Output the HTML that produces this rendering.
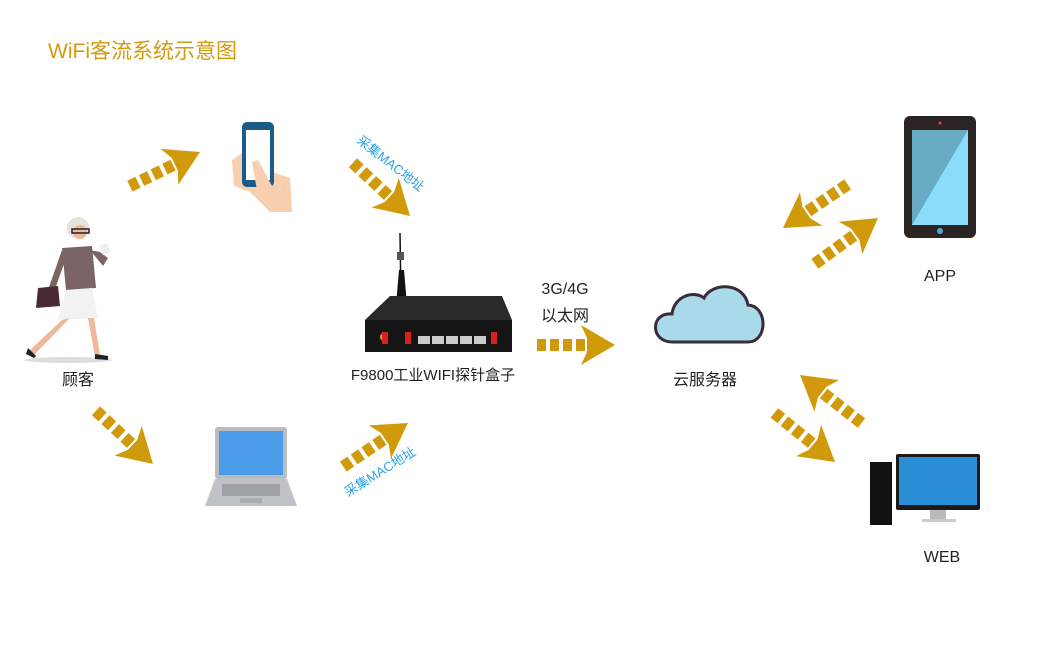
<!DOCTYPE html>
<html><head><meta charset="utf-8"><style>
html,body{margin:0;padding:0;background:#fff;}
body{width:1050px;height:646px;overflow:hidden;position:relative;font-family:"Liberation Sans","Noto Sans CJK SC",sans-serif;}
.t{position:absolute;font-size:16px;color:#222;white-space:nowrap;transform:translateX(-50%);}
</style></head><body>
<div style="position:absolute;left:48px;top:35px;font-size:21px;color:#d19a0a;font-family:'Liberation Sans','Noto Sans CJK SC',sans-serif;">WiFi客流系统示意图</div>
<svg width="1050" height="646" style="position:absolute;left:0;top:0">
<defs>
<g id="ar">
<polygon points="0,0 -34,-20 -28,-7 -28,7 -34,20" fill="#d19a0a"/>
<rect x="-39" y="-6" width="9" height="12" fill="#d19a0a"/>
<rect x="-52" y="-6" width="9" height="12" fill="#d19a0a"/>
<rect x="-65" y="-6" width="9" height="12" fill="#d19a0a"/>
<rect x="-78" y="-6" width="9" height="12" fill="#d19a0a"/>
</g>
</defs>
<use href="#ar" transform="translate(200,152) rotate(-26)"/>
<use href="#ar" transform="translate(410,216) rotate(43)"/>
<use href="#ar" transform="translate(153,464) rotate(43)"/>
<use href="#ar" transform="translate(408,423) rotate(-34)"/>
<use href="#ar" transform="translate(615,345) rotate(0)"/>
<use href="#ar" transform="translate(783,228) rotate(146)"/>
<use href="#ar" transform="translate(878,218) rotate(-36)"/>
<use href="#ar" transform="translate(800,375) rotate(-142)"/>
<use href="#ar" transform="translate(835,462) rotate(39)"/>
<text x="0" y="0" font-size="13" fill="#2aa3e8" transform="translate(356,142) rotate(38)" font-family="Liberation Sans,Noto Sans CJK SC,sans-serif">采集MAC地址</text>
<text x="0" y="0" font-size="13" fill="#2aa3e8" transform="translate(348,497) rotate(-32)" font-family="Liberation Sans,Noto Sans CJK SC,sans-serif">采集MAC地址</text>
<!-- woman -->
<ellipse cx="68" cy="360" rx="44" ry="3" fill="#ddd"/>
<circle cx="78" cy="228" r="11" fill="#e8e4dc"/>
<circle cx="80" cy="232" r="7" fill="#f0b89a"/>
<rect x="72" y="229" width="17" height="4" fill="none" stroke="#222" stroke-width="1.5"/>
<path d="M62,248 L92,246 L96,288 L66,290 Z" fill="#7a6466"/>
<path d="M66,290 L92,288 L98,318 L58,320 Z" fill="#f2f2f2"/>
<path d="M62,250 L48,290 L54,292 L66,258Z" fill="#7a6466"/>
<path d="M90,250 L103,266 L108,258 L100,252Z" fill="#7a6466"/>
<rect x="101" y="244" width="8" height="10" fill="#eee" transform="rotate(-20 105 249)"/>
<path d="M38,288 L58,286 L60,306 L36,308Z" fill="#4a2b33"/>
<path d="M70,318 L62,320 L30,350 L34,355Z" fill="#f0b89a"/>
<path d="M88,318 L94,318 L100,355 L95,356Z" fill="#f0b89a"/>
<path d="M28,348 L36,356 L34,358 L26,354Z" fill="#222"/>
<path d="M95,354 L108,356 L108,360 L95,359Z" fill="#222"/>
<!-- phone with hand -->
<path d="M232,160 L250,148 L266,170 L290,178 L292,212 L270,212 L250,192 L234,186Z" fill="#f8cfb0"/>
<rect x="242" y="122" width="32" height="65" rx="5" fill="#1c5a8a"/>
<rect x="246" y="130" width="24" height="50" fill="#fff"/>
<path d="M252,162 L258,160 L272,186 L290,190 L292,212 L272,212 L258,196Z" fill="#f8cfb0"/>
<!-- router -->
<line x1="400" y1="233" x2="401" y2="300" stroke="#111" stroke-width="1.5"/>
<rect x="397" y="252" width="7" height="8" fill="#555"/>
<path d="M399,270 L404,270 L407,305 L396,305Z" fill="#111"/>
<ellipse cx="402" cy="308" rx="14" ry="4" fill="#111"/>
<path d="M390,296 L502,296 L512,320 L365,320Z" fill="#2a2a2a"/>
<rect x="365" y="320" width="147" height="32" fill="#151515"/>
<circle cx="384" cy="337" r="4" fill="#c8a030"/>
<rect x="382" y="332" width="6" height="12" fill="#d82020"/>
<rect x="405" y="332" width="6" height="12" fill="#d82020"/>
<rect x="491" y="332" width="6" height="12" fill="#d82020"/>
<rect x="418" y="336" width="12" height="8" fill="#ccc"/><rect x="432" y="336" width="12" height="8" fill="#ccc"/><rect x="446" y="336" width="12" height="8" fill="#ccc"/><rect x="460" y="336" width="12" height="8" fill="#ccc"/><rect x="474" y="336" width="12" height="8" fill="#ccc"/>
<!-- laptop -->
<rect x="215" y="427" width="72" height="52" rx="3" fill="#b9bcc0"/>
<rect x="219" y="431" width="64" height="44" fill="#4a9ce8"/>
<path d="M215,479 L287,479 L297,506 L205,506Z" fill="#bfc2c6"/>
<rect x="222" y="484" width="58" height="12" fill="#9ea1a5"/>
<rect x="240" y="498" width="22" height="5" fill="#a8abaf"/>
<!-- cloud -->
<path d="M672,342 C650,342 650,312 672,314 C674,296 694,290 704,298 C712,282 744,282 748,305 C768,306 768,342 748,342 Z" fill="#a8daea" stroke="#3a2a3a" stroke-width="3"/>
<!-- tablet -->
<rect x="904" y="116" width="72" height="122" rx="6" fill="#2a2522"/>
<polygon points="912,130 968,130 968,225 912,225" fill="#89dcfb"/>
<polygon points="912,130 968,130 912,225" fill="#68acc4"/>
<circle cx="940" cy="231" r="3" fill="#4ab0d8"/>
<circle cx="940" cy="123" r="1.5" fill="#e04060"/>
<!-- PC -->
<rect x="870" y="462" width="22" height="63" fill="#111"/>
<rect x="896" y="454" width="84" height="56" rx="2" fill="#1a1a1a"/>
<rect x="899" y="457" width="78" height="48" fill="#2a8ed6"/>
<rect x="930" y="510" width="16" height="10" fill="#bbb"/>
<rect x="922" y="519" width="34" height="3" fill="#ccc"/>
</svg>
<div class="t" style="left:78px;top:366px;">顾客</div>
<div class="t" style="left:433px;top:364px;font-size:15px;">F9800工业WIFI探针盒子</div>
<div class="t" style="left:565px;top:281px;">3G/4G</div>
<div class="t" style="left:565px;top:302px;">以太网</div>
<div class="t" style="left:705px;top:366px;">云服务器</div>
<div class="t" style="left:940px;top:268px;">APP</div>
<div class="t" style="left:942px;top:549px;">WEB</div>
</body></html>
